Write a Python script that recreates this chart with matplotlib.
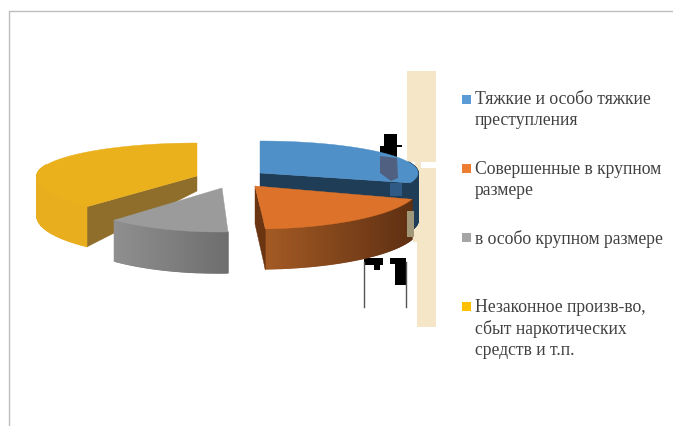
import numpy as np
import matplotlib
matplotlib.use("Agg")
import matplotlib.pyplot as plt
from matplotlib.colors import to_rgb
from matplotlib.patches import Polygon, Rectangle

categories = ["Тяжкие и особо тяжкие\nпреступления",
              "Совершенные в крупном\nразмере",
              "в особо крупном размере",
              "Незаконное произв-во,\nсбыт наркотических\nсредств и т.п."]
shares = [30, 19, 13, 38]
legend_colors = ["#5B9BD5", "#ED7D31", "#A5A5A5", "#FFC000"]

plt.rcParams["font.family"] = ["Liberation Serif", "DejaVu Serif"]
fig = plt.figure(figsize=(6.73, 4.26), dpi=100)
ax = fig.add_axes([0, 0, 1, 1])
ax.set_xlim(0, 673)
ax.set_ylim(426, 0)
ax.axis("off")

# frame
ax.plot([8.5, 8.5, 673], [426, 10.5, 10.5], color="#bdbdbd", lw=1.0, zorder=1)

# beige artefact blocks
for bx, by, bw, bh in [(407, 71, 29, 91), (417, 168, 19, 159), (415, 157, 6, 11), (413, 200, 9, 42)]:
    ax.add_patch(Rectangle((bx, by), bw, bh, fc="#F6E6C8", ec="none", zorder=1))
# black artefacts
for bx, by, bw, bh in [(384, 134, 13, 25), (380, 146, 17, 10), (397, 145, 5, 1.5),
                       (364, 258, 19, 7), (374, 258, 6, 12), (395, 258, 11, 27), (390, 258, 10, 6)]:
    ax.add_patch(Rectangle((bx, by), bw, bh, fc="#000000", ec="none", zorder=2))
ax.plot([364, 364], [262, 307], color="#555555", lw=1, zorder=2)
ax.plot([406, 406], [262, 307], color="#555555", lw=1, zorder=2)


def mix(a, b, t):
    a, b = np.array(to_rgb(a)), np.array(to_rgb(b))
    return tuple(a + (b - a) * t)


def arc(cx, cy, rx, ry_back, ry_front, t1, t2):
    th = np.radians(np.linspace(t1, t2, 120))
    ry = np.where(np.sin(th) > 0, ry_back, ry_front)
    return cx + rx * np.cos(th), cy - ry * np.sin(th), th


def outer_side(x, y, th, depth, side0, side1, z):
    idx = np.where(np.sin(th) < 0.35)[0]
    xmin, xmax = x[idx].min(), x[idx].max()
    for i in idx[:-1]:
        c = mix(side0, side1, (x[i] - xmin) / (xmax - xmin))
        ax.add_patch(Polygon([(x[i], y[i]), (x[i + 1], y[i + 1]),
                              (x[i + 1], y[i + 1] + depth), (x[i], y[i] + depth)],
                             fc=c, ec=c, lw=1.0, zorder=z))


def top_face(ax_x, ax_y, x, y, color, z):
    ax.add_patch(Polygon(np.column_stack([np.r_[ax_x, x], np.r_[ax_y, y]]),
                         fc=color, ec=color, lw=0.3, zorder=z + 0.2))


def inner_face(ax_x, ax_y, px, py, depth, apex_depth, color, z):
    ax.add_patch(Polygon([(ax_x, ax_y), (px, py), (px, py + depth), (ax_x, ax_y + apex_depth)],
                         fc=color, ec=color, lw=0.3, zorder=z + 0.1))


ang = 90 - np.cumsum([0] + shares) * 3.6

# yellow slice
x, y, th = arc(197, 176, 160, 33, 42, ang[3], ang[4])
outer_side(x, y, th, 40, "#E8AE1E", "#E8AE1E", 3)
inner_face(197, 176, x[0], y[0], 40, 15, "#8F6E2B", 3)
top_face(197, 176, x, y, "#EBB11C", 3)

# gray slice
x, y, th = arc(218.5, 188, 152, 44, 44, ang[2], ang[3])
outer_side(x, y, th, 41, "#8F8F8F", "#6E6E6E", 4)
top_face(222, 188, x, y, "#9B9B9B", 4)

# blue slice
x, y, th = arc(260, 173, 158, 32, 32, ang[0], ang[1])
outer_side(x, y, th, 48, "#1F3D57", "#1F3D57", 5)
inner_face(260, 173, x[-1], y[-1], 48, 48, "#1F3D57", 5)
top_face(260, 173, x, y, "#4F90C8", 5)
# black mark showing through the blue slice
ax.add_patch(Polygon([(380, 156), (397, 158), (398, 178), (391, 181), (380, 173)],
                     fc="#4F6080", ec="none", zorder=5.5))
ax.add_patch(Rectangle((390, 183), 12, 13, fc="#2F5A85", ec="none", zorder=5.5))

# orange slice
x, y, th = arc(255, 186, 165, 43, 43, ang[1], ang[2])
outer_side(x, y, th, 40, "#A45A24", "#5F3012", 6)
ax.add_patch(Polygon([(255, 186), (255, 224), (x[-1], y[-1] + 41), (x[-1], y[-1])],
                     fc="#6B3512", ec="#6B3512", lw=0.3, zorder=6.1))
top_face(255, 186, x, y, "#DD732A", 6)
ax.add_patch(Rectangle((407, 211), 7, 26, fc="#A09878", ec="none", zorder=6.5))

# legend
sq_y = [95, 164, 233, 302]
tx_y = [91, 161, 229.5, 298.5]
for name, c, sy, ty in zip(categories, legend_colors, sq_y, tx_y):
    ax.add_patch(Rectangle((462, sy), 9, 9, fc=c, ec="none", zorder=7))
    ax.text(475, ty, name, fontsize=12.7, color="#404040", va="top", ha="left",
            linespacing=1.32, zorder=7)

fig.savefig("out.png", dpi=100)
